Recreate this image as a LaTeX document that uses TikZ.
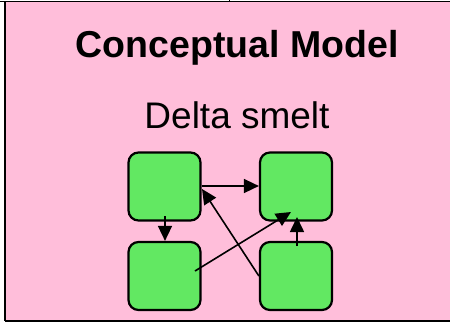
\documentclass[tikz,border=0pt]{standalone}
\usepackage{fontspec}
\setmainfont{Liberation Sans}
\usetikzlibrary{arrows.meta}
\definecolor{bgpink}{RGB}{255,190,218}
\definecolor{boxgreen}{RGB}{98,232,98}
\begin{document}
\begin{tikzpicture}[x=1pt,y=-1pt,
  box/.style={draw=black,line width=2.2pt,fill=boxgreen,rounded corners=10pt,minimum width=72pt,minimum height=68pt,inner sep=0pt},
  link/.style={line width=1.6pt,-{Triangle[length=15pt,width=14pt]}}]
\useasboundingbox (0,0) rectangle (450,322);
\fill[white] (0,0) rectangle (450,322);
\fill[bgpink] (5,2) rectangle (450,321);
\draw[line width=1.4pt] (0,1.5) -- (450,1.5);
\draw[line width=1.4pt] (5,1.5) -- (5,321);
\draw[line width=1.4pt] (5,321) -- (450,321);
\draw[line width=0.8pt] (229.5,0) -- (229.5,2);
\node (title) at (237,48) {\fontsize{37.5}{40}\selectfont\bfseries Conceptual Model};
\node (sub) at (237,115) {\fontsize{37}{40}\selectfont Delta smelt};
\node[box] (tl) at (164.5,186.5) {};
\node[box] (tr) at (296,186.5) {};
\node[box] (bl) at (164.5,276) {};
\node[box] (br) at (296,276) {};
\coordinate (tlb) at (165,216);
\coordinate (blm) at (195,271);
\coordinate (trm) at (291,212);
\coordinate (brt) at (297,246);
\coordinate (trb) at (297,217);
\coordinate (tlr) at (202,189);
\draw[link] (tl.east |- 0,186) -- (tr.west |- 0,186);
\draw[link] (tlb) -- (bl.north -| tlb);
\draw[link] (blm) -- (trm);
\draw[link] (br.west |- 0,276) -- (tlr);
\draw[link] (brt) -- (trb);
\end{tikzpicture}
\end{document}
